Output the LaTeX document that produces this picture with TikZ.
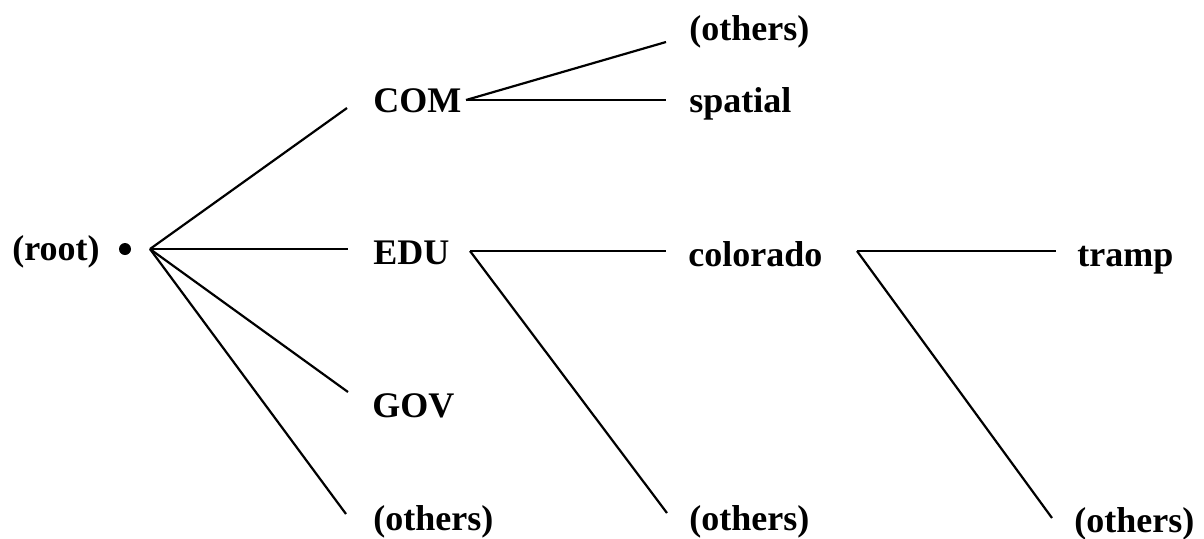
\documentclass[tikz,border=0pt]{standalone}
\usepackage{fontspec}
\setmainfont{Liberation Serif}
\usepackage{tikz}
\usetikzlibrary{positioning}

\tikzset{
  lbl/.style={inner sep=0pt, anchor=base west, font=\bfseries\fontsize{18}{20}\selectfont},
  branch/.style={line width=1.1pt},
}

\begin{document}
\begin{tikzpicture}[x=0.5pt,y=-0.5pt]
  \useasboundingbox (0,0) rectangle (1204,538);

  % level 0
  \node[lbl] (root) at (12,260) {(root)};
  \node[circle,fill,inner sep=0pt,minimum size=6pt] (dot) at (125,249) {};
  \coordinate (rootfork) at (150,249);

  % level 1
  \node[lbl] (com) at (373,112) {COM};
  \node[lbl] (edu) at (373,264) {EDU};
  \node[lbl] (gov) at (372,417) {GOV};
  \node[lbl] (othA) at (373,530) {(others)};
  \draw[branch] (rootfork) -- ([shift={(-26,-4)}]com.base west);
  \draw[branch] (rootfork) -- ([shift={(-25,-15)}]edu.base west);
  \draw[branch] (rootfork) -- ([shift={(-24,-25)}]gov.base west);
  \draw[branch] (rootfork) -- ([shift={(-27,-16)}]othA.base west);

  % below COM
  \coordinate (comfork) at (466,100);
  \node[lbl] (othB) at (689,40) {(others)};
  \node[lbl] (spatial) at (689,112) {spatial};
  \draw[branch] (comfork) -- ([shift={(-23,2)}]othB.base west);
  \draw[branch] (comfork) -- ([shift={(-23,-12)}]spatial.base west);

  % below EDU
  \coordinate (edufork) at (470,251);
  \node[lbl] (colorado) at (688,266) {colorado};
  \node[lbl] (othC) at (689,530) {(others)};
  \draw[branch] (edufork) -- ([shift={(-22,-15)}]colorado.base west);
  \draw[branch] (edufork) -- ([shift={(-22,-17)}]othC.base west);

  % below colorado
  \coordinate (colfork) at (857,251);
  \node[lbl] (tramp) at (1077,266) {tramp};
  \node[lbl] (othD) at (1074,532) {(others)};
  \draw[branch] (colfork) -- ([shift={(-21,-15)}]tramp.base west);
  \draw[branch] (colfork) -- ([shift={(-22,-14)}]othD.base west);
\end{tikzpicture}
\end{document}
